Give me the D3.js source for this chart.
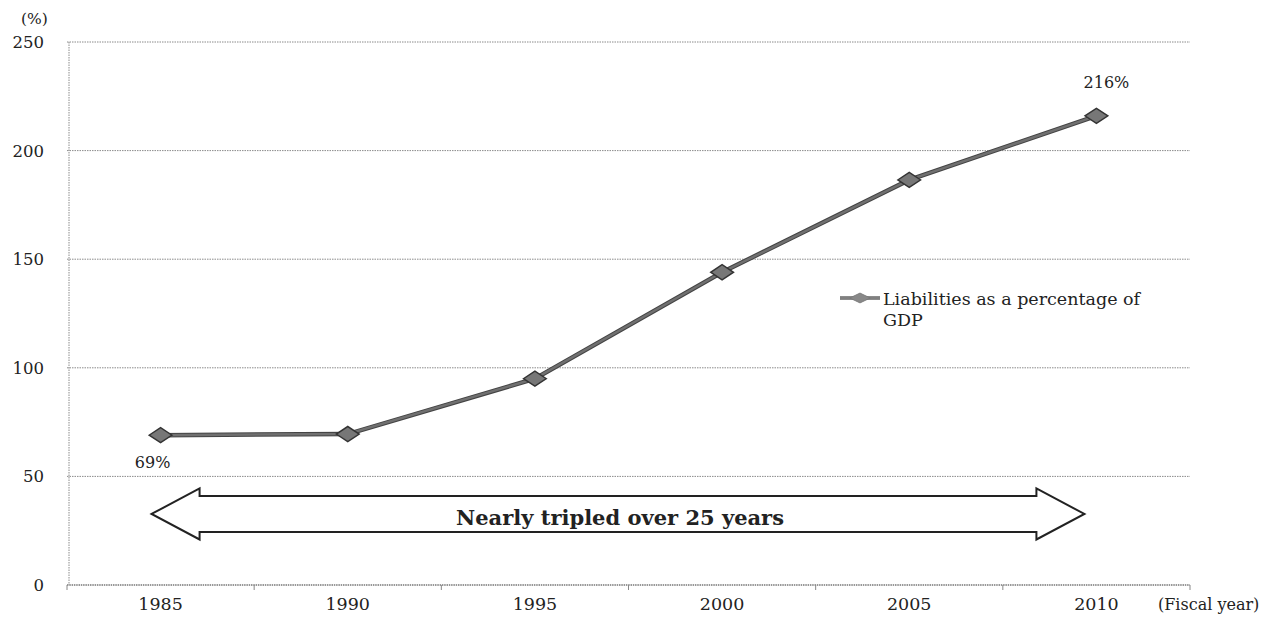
<!DOCTYPE html>
<html>
<head>
<meta charset="utf-8">
<script src="https://cdn.jsdelivr.net/npm/d3@7"></script>
<style>
  body { margin: 0; background: #fff; }
  svg text { font-family: "DejaVu Serif", Georgia, serif; fill: #222; }
</style>
</head>
<body>
<div id="chart"></div>
<script>
// data
var years = ["1985", "1990", "1995", "2000", "2005", "2010"];
var liabilities = [69, 69.5, 95, 144, 186.5, 216];
var yTicks = [0, 50, 100, 150, 200, 250];
var seriesName = ["Liabilities as a percentage of", "GDP"];
var arrowLabel = "Nearly tripled over 25 years";
var arrowLevel = 32.7;

var W = 1269, H = 625;
var margin = {top: 42, right: 79, bottom: 40, left: 67};

var svg = d3.select("#chart").append("svg")
    .attr("width", W).attr("height", H);

var x = d3.scaleBand()
    .domain(years)
    .range([margin.left, W - margin.right])
    .padding(0);

var y = d3.scaleLinear()
    .domain([0, 250])
    .range([H - margin.bottom, margin.top]);

// gridlines
svg.append("g")
    .selectAll("line")
    .data(yTicks.filter(d => d > 0))
    .enter().append("line")
    .attr("x1", margin.left).attr("x2", W - margin.right)
    .attr("y1", d => y(d)).attr("y2", d => y(d))
    .attr("stroke", "#8a8a8a")
    .attr("stroke-width", 1)
    .attr("stroke-dasharray", "1.5,1");

// y axis line
svg.append("line")
    .attr("x1", margin.left + 2).attr("x2", margin.left + 2)
    .attr("y1", y(250)).attr("y2", y(0))
    .attr("stroke", "#8a8a8a")
    .attr("stroke-dasharray", "1.5,1");

// y labels
svg.append("g")
    .selectAll("text")
    .data(yTicks)
    .enter().append("text")
    .attr("x", 44).attr("y", d => y(d) + 6)
    .attr("text-anchor", "end")
    .style("font-size", "16.5px")
    .text(d => d);

svg.append("text")
    .attr("x", 21).attr("y", 24)
    .style("font-size", "15.5px")
    .text("(%)");

// x axis
var xAxis = svg.append("g")
    .attr("transform", "translate(0," + y(0) + ")");
xAxis.append("line")
    .attr("x1", margin.left).attr("x2", W - margin.right)
    .attr("stroke", "#777")
    .attr("stroke-width", 1.5)
    .attr("stroke-dasharray", "1.5,0.8");
var bounds = years.map(d => x(d)).concat([x(years[years.length - 1]) + x.bandwidth()]);
xAxis.selectAll(".tk")
    .data(bounds)
    .enter().append("line")
    .attr("x1", d => d).attr("x2", d => d)
    .attr("y1", 0).attr("y2", 5)
    .attr("stroke", "#888");
xAxis.selectAll(".lbl")
    .data(years)
    .enter().append("text")
    .attr("x", d => x(d) + x.bandwidth() / 2)
    .attr("y", 25)
    .attr("text-anchor", "middle")
    .style("font-size", "17.5px")
    .text(d => d);

svg.append("text")
    .attr("x", 1158).attr("y", 610)
    .style("font-size", "16px")
    .text("(Fiscal year)");

// the series line
var pts = years.map((d, i) => [x(d) + x.bandwidth() / 2, y(liabilities[i])]);
svg.append("path")
    .attr("d", d3.line()(pts))
    .attr("fill", "none")
    .attr("stroke", "#444")
    .attr("stroke-width", 4.5);
svg.append("path")
    .attr("d", d3.line()(pts))
    .attr("fill", "none")
    .attr("stroke", "#707070")
    .attr("stroke-width", 2.5);

var diamond = d3.symbol().type(d3.symbolDiamond).size(150);
svg.append("g")
    .selectAll("path")
    .data(pts)
    .enter().append("path")
    .attr("d", diamond)
    .attr("transform", d => "translate(" + d[0] + "," + d[1] + ") rotate(90) scale(1.15,1)")
    .attr("fill", "#777")
    .attr("stroke", "#333")
    .attr("stroke-width", 1.3);

// point labels
svg.append("text")
    .attr("x", pts[0][0] - 8).attr("y", pts[0][1] + 33)
    .attr("text-anchor", "middle")
    .style("font-size", "16px")
    .text(liabilities[0] + "%");
svg.append("text")
    .attr("x", pts[5][0] + 10).attr("y", pts[5][1] - 28)
    .attr("text-anchor", "middle")
    .style("font-size", "16px")
    .text(liabilities[5] + "%");

// legend
var lg = svg.append("g").attr("transform", "translate(840,298)");
lg.append("line").attr("x1", 0).attr("x2", 40)
    .attr("stroke", "#666").attr("stroke-width", 3.5);
lg.append("line").attr("x1", 0).attr("x2", 40)
    .attr("stroke", "#8a8a8a").attr("stroke-width", 1.5);
lg.append("path").attr("d", diamond)
    .attr("transform", "translate(20,0) rotate(90) scale(0.75,0.9)")
    .attr("fill", "#888").attr("stroke", "#777");
lg.selectAll("text")
    .data(seriesName)
    .enter().append("text")
    .attr("x", 43).attr("y", (d, i) => 7 + i * 21)
    .style("font-size", "17.5px")
    .text(d => d);

// double-headed arrow
var ax0 = pts[0][0] - 9, ax1 = pts[5][0] - 12;
var ac = y(arrowLevel), hh = 25.5, sh = 18, hl = 48;
var arrowPts = [
  [ax0, ac], [ax0 + hl, ac - hh], [ax0 + hl, ac - sh], [ax1 - hl, ac - sh],
  [ax1 - hl, ac - hh], [ax1, ac], [ax1 - hl, ac + hh], [ax1 - hl, ac + sh],
  [ax0 + hl, ac + sh], [ax0 + hl, ac + hh]
];
svg.append("path")
    .attr("d", d3.line()(arrowPts) + "Z")
    .attr("fill", "#fff")
    .attr("stroke", "#222")
    .attr("stroke-width", 2);
svg.append("text")
    .attr("x", 620).attr("y", ac + 11)
    .attr("text-anchor", "middle")
    .style("font-size", "21px")
    .style("font-weight", "bold")
    .text(arrowLabel);
</script>
</body>
</html>
